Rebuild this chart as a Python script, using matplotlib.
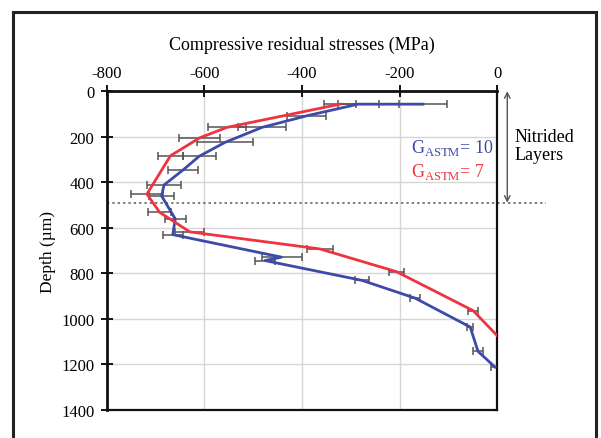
import matplotlib.pyplot as plt
from matplotlib.patches import Rectangle

plt.rcParams['font.family'] = ['Liberation Serif', 'DejaVu Serif']
plt.rcParams['mathtext.fontset'] = 'custom'
plt.rcParams['mathtext.rm'] = 'Liberation Serif'
plt.rcParams['axes.unicode_minus'] = False

# G_ASTM = 10 (blue)
blue_depth = [57, 57, 108, 159, 225, 286, 346, 412, 460, 561, 630, 729, 744, 831, 909, 1036, 1143, 1212]
blue_stress = [-152, -285, -390, -482, -558, -611, -644, -683, -688, -660, -665, -442, -476, -277, -168, -55, -39, -4]
blue_err = [50, 42, 40, 49, 57, 34, 30, 35, 25, 22, 20, 41, 20, 15, 10, 6, 11, 8]

# G_ASTM = 7 (red)
red_depth = [57, 159, 205, 284, 452, 532, 618, 693, 793, 964, 1073]
red_stress = [-322, -554, -610, -670, -718, -692, -630, -363, -206, -49, 0]
red_err = [33, 39, 42, 26, 32, 23, 30, 27, 15, 11, 0]

layer_depth = 490
x_ticks = [-800, -600, -400, -200, 0]
y_ticks = [0, 200, 400, 600, 800, 1000, 1200, 1400]

blue = '#3d4aa8'
red = '#ee3440'

fig = plt.figure(figsize=(6.01, 4.39), dpi=100)
ax = fig.add_axes([0.178, 0.064, 0.649, 0.726])

# outer frame
fig.patches.append(Rectangle((13 / 601, -0.05), 583 / 601, 1 - 13 / 439 + 0.05,
                             transform=fig.transFigure, fill=False,
                             edgecolor='#222222', linewidth=2.2))

ax.errorbar(blue_stress, blue_depth, xerr=blue_err, fmt='none', ecolor='#555555',
            elinewidth=1.1, capsize=3, capthick=1.1, zorder=2)
ax.errorbar(red_stress, red_depth, xerr=red_err, fmt='none', ecolor='#555555',
            elinewidth=1.1, capsize=3, capthick=1.1, zorder=2)
ax.plot(blue_stress, blue_depth, color=blue, lw=2.0, zorder=3)
ax.plot(red_stress, red_depth, color=red, lw=2.0, zorder=3)

ax.set_xlim(-800, 0)
ax.set_ylim(1400, 0)
ax.set_xticks(x_ticks)
ax.set_yticks(y_ticks)
ax.xaxis.tick_top()
ax.xaxis.set_label_position('top')
ax.tick_params(axis='both', direction='inout', length=8, width=1.3, labelsize=12, pad=5)
ax.tick_params(axis='x', top=True, bottom=False, pad=3)
ax.tick_params(axis='y', right=False)
ax.grid(True, color='#d6d6d6', lw=1)
ax.set_axisbelow(True)
for s in ax.spines.values():
    s.set_linewidth(1.6)
    s.set_color('#111111')
ax.spines['top'].set_linewidth(2)
ax.spines['left'].set_linewidth(2)

ax.set_xlabel('Compressive residual stresses (MPa)', fontsize=13, labelpad=12)
ax.set_ylabel('Depth (µm)', fontsize=12.5, labelpad=4)

# nitrided layer marker
ax.plot([-800, 100], [layer_depth, layer_depth], ls=(0, (1.5, 2)), color='#555555',
        lw=1.1, clip_on=False, zorder=1)
ax.annotate('', xy=(21, 0), xytext=(21, layer_depth), annotation_clip=False,
            arrowprops=dict(arrowstyle='<->', color='#555555', lw=1, shrinkA=0, shrinkB=0))
ax.text(36, 240, 'Nitrided\nLayers', fontsize=13, ha='left', va='center',
        linespacing=1.1, clip_on=False)

ax.text(-176, 245, r'G$_{\mathrm{ASTM}}$= 10', color=blue, fontsize=13, ha='left', va='center')
ax.text(-176, 350, r'G$_{\mathrm{ASTM}}$= 7', color=red, fontsize=13, ha='left', va='center')

plt.savefig('out.png', dpi=100)
